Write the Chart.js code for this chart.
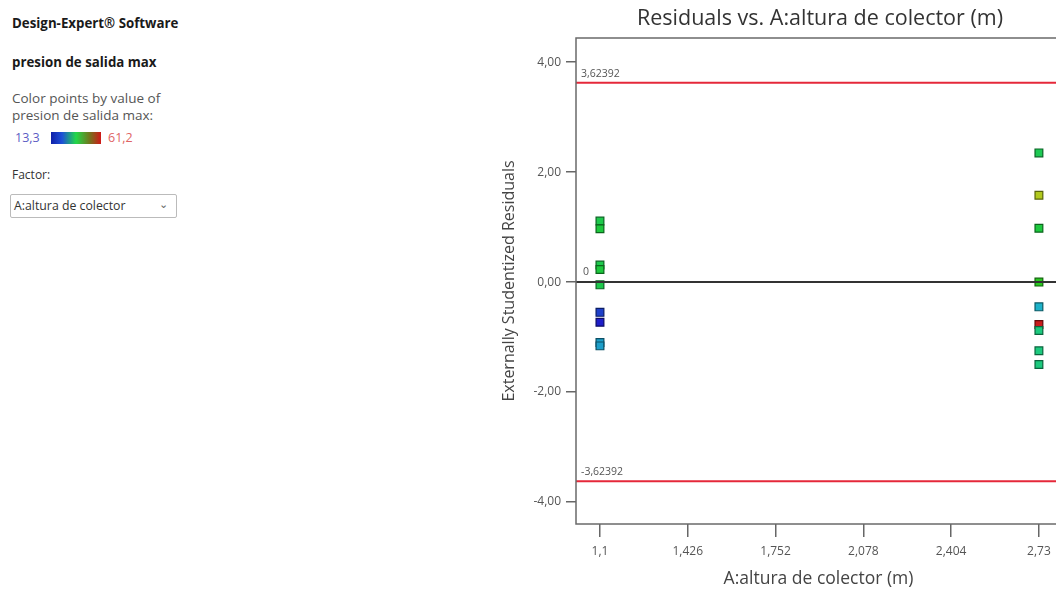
<!DOCTYPE html>
<html>
<head>
<meta charset="utf-8">
<script src="https://cdn.jsdelivr.net/npm/chart.js@4"></script>
<style>
  body { margin: 0; width: 1056px; height: 599px; overflow: hidden; background: #fff; position: relative; font-family: "Open Sans", sans-serif; }
  .side { position: absolute; left: 12px; white-space: nowrap; }
  .bold { font-weight: bold; font-size: 13.3px; color: #1a1a1a; }
  .info { font-size: 13.5px; color: #555; line-height: 17px; }
  #scale { position: absolute; left: 15px; top: 129px; font-size: 12.5px; }
  #scale .lo { position: absolute; left: 0; top: 0; color: #5c5cc4; }
  #scale .hi { position: absolute; left: 93px; top: 0; color: #e06464; }
  #scale .bar { position: absolute; left: 36px; top: 3px; width: 50px; height: 12px;
    background: linear-gradient(to right, #1020a8 0%, #1e50d8 22%, #22d848 50%, #6e7a1e 76%, #d01818 100%); }
  #factor { font-size: 12px; color: #333; }
  #select { position: absolute; left: 10px; top: 194px; width: 167px; height: 24px; border: 1px solid #bbb;
    border-radius: 2px; font-size: 12.3px; color: #333; line-height: 22px; box-sizing: border-box; padding-left: 3px; }
  #select .chev { position: absolute; right: 8px; top: -2px; color: #666; font-size: 11px; }
  #wrap { position: absolute; left: 480px; top: 0; width: 656px; height: 599px; }
</style>
</head>
<body>
<div class="side bold" style="top:14px">Design-Expert® Software</div>
<div class="side bold" style="top:53px">presion de salida max</div>
<div class="side info" style="top:90px">Color points by value of<br>presion de salida max:</div>
<div id="scale"><span class="lo">13,3</span><span class="bar"></span><span class="hi">61,2</span></div>
<div class="side" id="factor" style="top:166px">Factor:</div>
<div id="select">A:altura de colector<span class="chev">&#8964;</span></div>

<div id="wrap"><canvas id="residual-chart" width="656" height="599"></canvas></div>

<script>
// altura de colector (factor A) for each run
const alturaValues = [1.1, 1.1, 1.1, 1.1, 1.1, 1.1, 1.1, 1.1, 1.1,
  2.73, 2.73, 2.73, 2.73, 2.73, 2.73, 2.73, 2.73, 2.73];
// externally studentized residuals
const residualValues = [1.11, 0.97, 0.31, 0.23, -0.05, -0.55, -0.73, -1.10, -1.16,
  2.35, 1.58, 0.98, 0.00, -0.45, -0.77, -0.88, -1.25, -1.50];
// presion de salida max (used to colour the points)
const presionValues = [34, 35, 34, 35, 34, 15.7, 13.3, 22.3, 22.3,
  33.5, 47.6, 35, 38, 23.7, 61.2, 30.5, 30.5, 30.5];
const presionMin = 13.3;
const presionMax = 61.2;

const limitValue = 3.62392;
const limitLabels = ['3,62392', '-3,62392'];

const chartTitle = 'Residuals vs. A:altura de colector (m)';
const xMin = 1.011, xMax = 2.812;
const yMin = -4.4, yMax = 4.44;
const xTickValues = [1.1, 1.426, 1.752, 2.078, 2.404, 2.73];
const xTickLabels = ['1,1', '1,426', '1,752', '2,078', '2,404', '2,73'];
const yTickValues = [-4, -2, 0, 2, 4];
const yTickLabels = ['-4,00', '-2,00', '0,00', '2,00', '4,00'];

function hueFor(v) {
  const t = (v - presionMin) / (presionMax - presionMin);
  return 240 * (1 - t);
}
const fillColors = presionValues.map(v => `hsl(${hueFor(v)}, 75%, 45%)`);
const edgeColors = presionValues.map(v => `hsl(${hueFor(v)}, 80%, 22%)`);

const points = alturaValues.map((x, i) => ({ x: x, y: residualValues[i] }));

// frame, limit labels and the title (title is off-centre in the original)
const frameAndLabels = {
  id: 'frameAndLabels',
  afterDatasetsDraw(chart) {
    const { ctx, chartArea: a, scales } = chart;
    ctx.save();
    ctx.strokeStyle = '#6a6a6a';
    ctx.lineWidth = 1.5;
    ctx.strokeRect(a.left, a.top, a.right - a.left, a.bottom - a.top);
    ctx.font = '10.5px "Open Sans"';
    ctx.fillStyle = '#555';
    ctx.textBaseline = 'middle';
    ctx.fillText(limitLabels[0], a.left + 5, scales.y.getPixelForValue(limitValue) - 9);
    ctx.fillText(limitLabels[1], a.left + 5, scales.y.getPixelForValue(-limitValue) - 9);
    ctx.fillText('0', a.left + 7, scales.y.getPixelForValue(0) - 10);

    ctx.font = '21.5px "Open Sans"';
    ctx.fillStyle = '#333';
    ctx.textAlign = 'center';
    ctx.fillText(chartTitle, 340, 19);
    ctx.restore();
  }
};

new Chart(document.getElementById('residual-chart'), {
  type: 'scatter',
  data: {
    datasets: [
      {
        data: [{ x: xMin, y: 0 }, { x: xMax, y: 0 }],
        showLine: true, borderColor: '#333', borderWidth: 2, pointRadius: 0
      },
      {
        data: [{ x: xMin, y: limitValue }, { x: xMax, y: limitValue }],
        showLine: true, borderColor: '#e5283a', borderWidth: 2, pointRadius: 0
      },
      {
        data: [{ x: xMin, y: -limitValue }, { x: xMax, y: -limitValue }],
        showLine: true, borderColor: '#e5283a', borderWidth: 2, pointRadius: 0
      },
      {
        data: points,
        pointStyle: 'rect',
        pointRadius: 5.5,
        pointBorderWidth: 1.2,
        backgroundColor: fillColors,
        borderColor: edgeColors
      }
    ]
  },
  options: {
    responsive: false,
    animation: false,
    layout: { padding: { left: 17, right: 75, top: 38, bottom: 0 } },
    plugins: {
      legend: { display: false },
      tooltip: { enabled: false },
      title: { display: false }
    },
    scales: {
      x: {
        type: 'linear',
        min: xMin, max: xMax,
        afterFit: s => { s.height = 75; },
        afterBuildTicks: s => { s.ticks = xTickValues.map(v => ({ value: v })); },
        border: { display: false },
        grid: { drawOnChartArea: false, tickLength: 13, tickColor: '#666', lineWidth: 1.5 },
        ticks: {
          padding: 7, color: '#555', maxRotation: 0,
          font: { family: 'Open Sans', size: 12 },
          callback: (v, i) => xTickLabels[i]
        },
        title: {
          display: true, text: 'A:altura de colector (m)', color: '#444',
          font: { family: 'Open Sans', size: 17.5 },
          padding: { top: 10, bottom: 9 }
        }
      },
      y: {
        min: yMin, max: yMax,
        afterFit: s => { s.width = 79; },
        afterBuildTicks: s => { s.ticks = yTickValues.map(v => ({ value: v })); },
        border: { display: false },
        grid: { drawOnChartArea: false, tickLength: 10, tickColor: '#666', lineWidth: 1.5 },
        ticks: {
          padding: 5, color: '#555',
          font: { family: 'Open Sans', size: 12 },
          callback: (v, i) => yTickLabels[i]
        },
        title: {
          display: true, text: 'Externally Studentized Residuals', color: '#444',
          font: { family: 'Open Sans', size: 16 },
          padding: { top: 3, bottom: 4 }
        }
      }
    }
  },
  plugins: [frameAndLabels]
});
</script>
</body>
</html>
